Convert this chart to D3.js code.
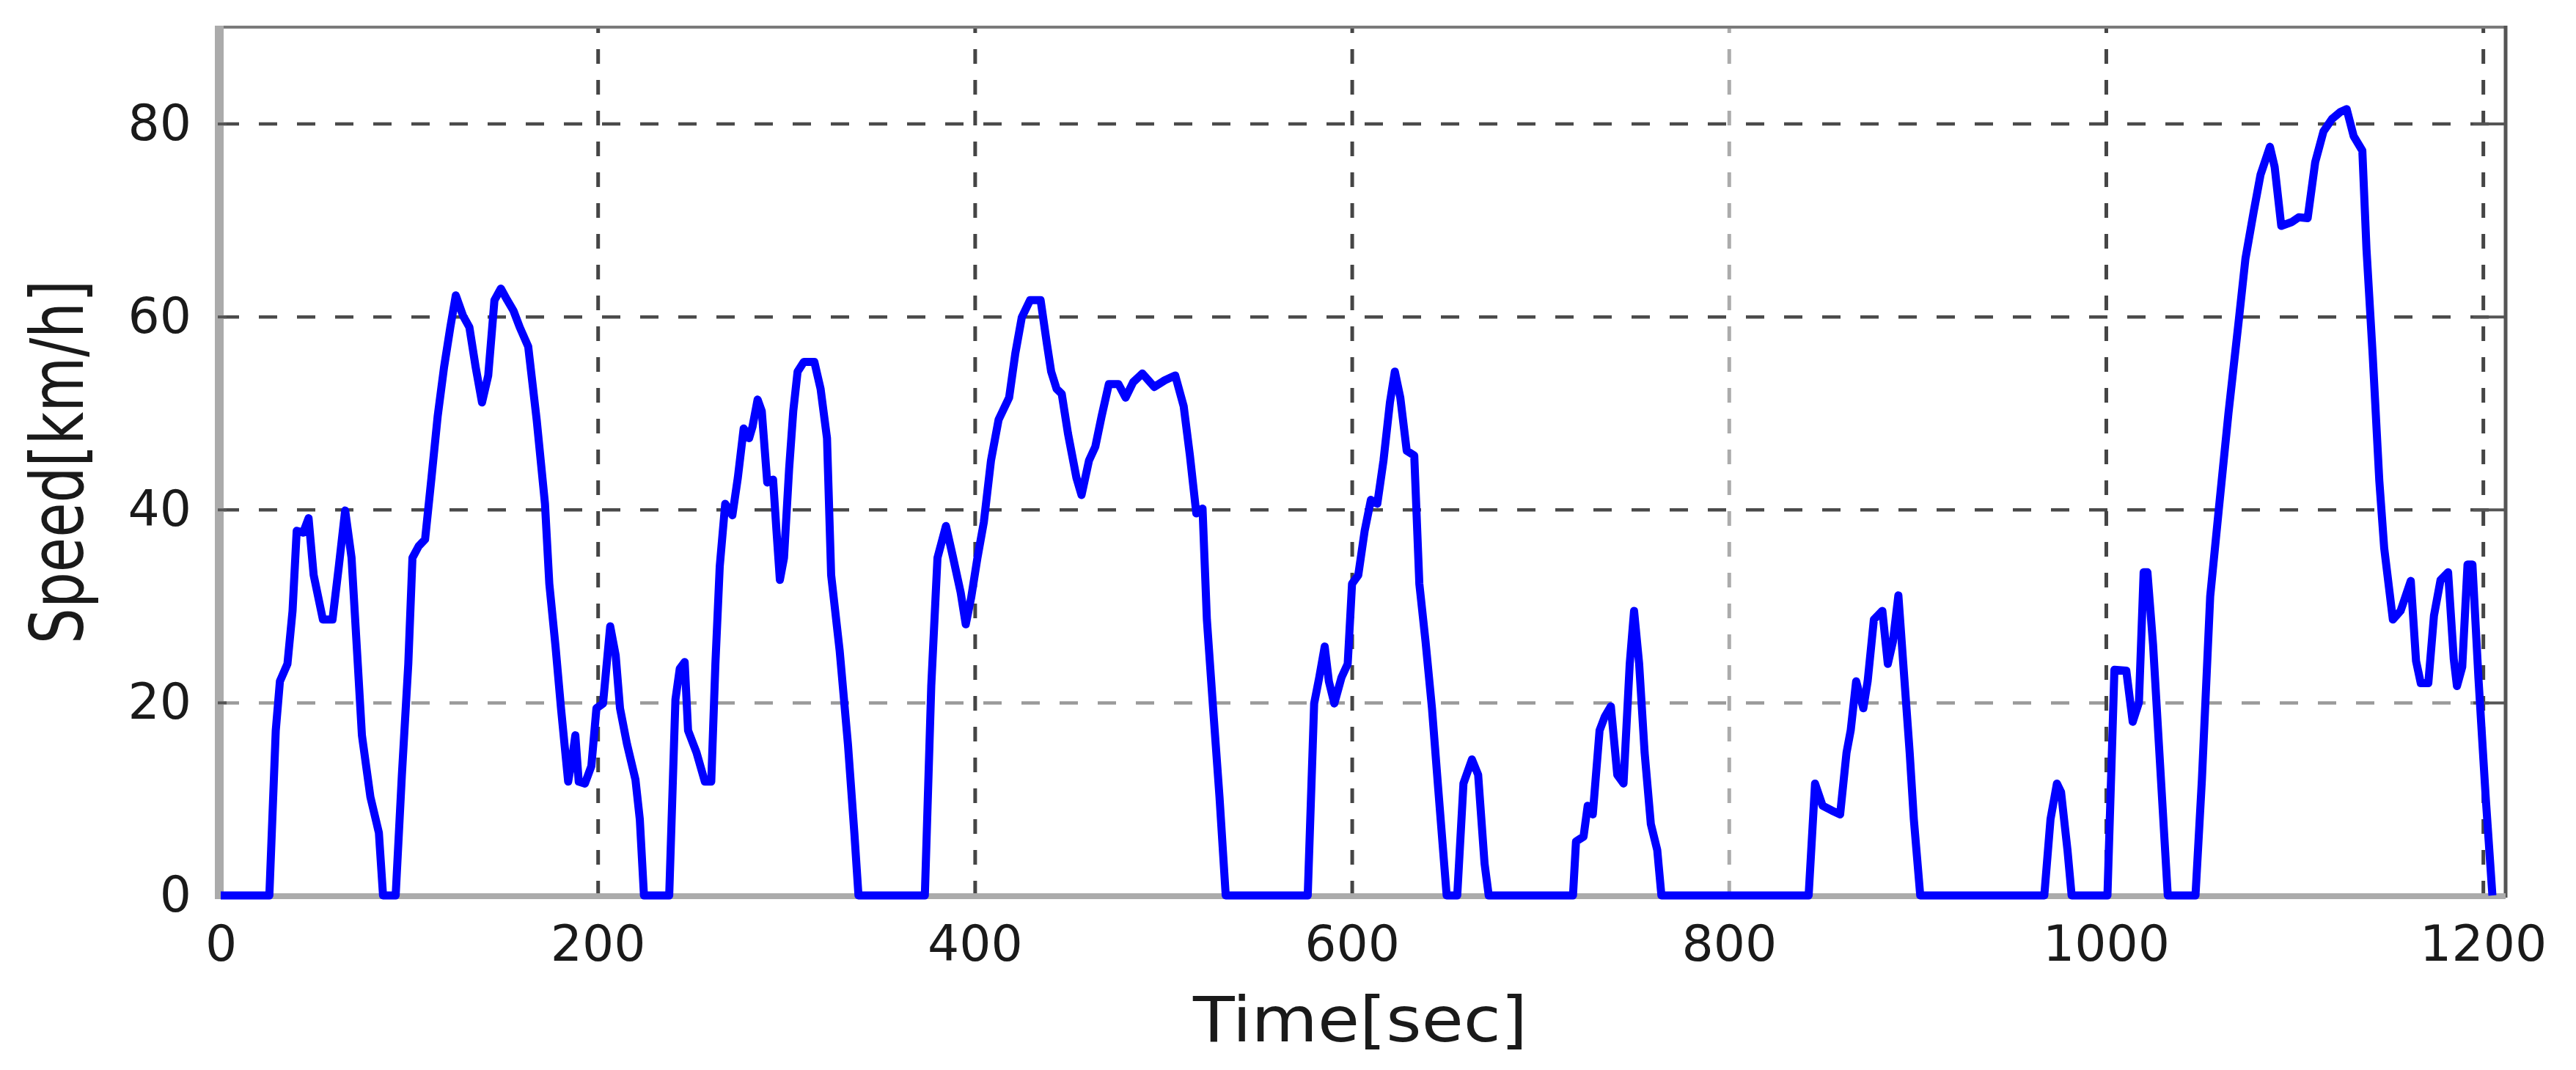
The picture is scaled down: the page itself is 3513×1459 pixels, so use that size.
<!DOCTYPE html>
<html>
<head>
<meta charset="utf-8">
<script src="https://cdn.jsdelivr.net/npm/d3@7"></script>
<style>
  html, body { margin: 0; padding: 0; background: #fff; }
  svg { display: block; }
</style>
</head>
<body>
<script>
// ---------------- data ----------------
const timeSec = [
  0, 25.8, 29.2, 31.4, 35.4, 38.1, 40.3, 43.7, 46.6, 49.3, 54.2, 59.3, 62.7, 66, 69.4, 72.7, 74.9, 79.4, 83.9, 86.1,
  92.8, 96.1, 99.5, 101.7, 105, 108.4, 111.8, 115.1, 118.5, 121.8, 124.7, 128.5, 131.9, 135.2, 138.6, 141.9, 145.2, 148.6, 152, 155.3,
  158.6, 163.1, 167.6, 172, 174.3, 177.6, 180.5, 184.3, 186.5, 188.1, 189.9, 193.2, 196.6, 199.3, 202.8, 206.6, 209.5, 211.8, 215.5, 220,
  222.3, 224.5, 237.9, 241.2, 243.5, 246.1, 247.9, 252.4, 256.8, 260.2, 262.4, 264.7, 267.6, 271.4, 274.3, 277.4, 280.3, 282.1, 284.8, 287,
  289.9, 293, 294.8, 296.6, 298.8, 301.5, 303.7, 306, 309.3, 314.9, 318.2, 321.6, 323.8, 328.3, 332.7, 336.1, 338.3, 373.5, 376.9, 380.2,
  384.7, 388.5, 392.5, 395.2, 398.1, 401.4, 404.8, 408.6, 412.6, 418.2, 421.5, 424.9, 429.3, 434.9, 438.3, 440.5, 443.4, 446.1, 449.4, 453.9,
  456.6, 460.6, 463.9, 467.3, 471.1, 476.2, 480, 484, 488.9, 495.2, 500.8, 506.3, 510.8, 514.1, 517.5, 520.8, 523.1, 526.4, 529.8, 533.1,
  576.6, 580, 582.7, 585.6, 587.8, 590.7, 594.5, 597.8, 600.1, 603.4, 606.8, 610.1, 613.5, 616.8, 620.2, 622.8, 625.7, 629.1, 633.1, 635.8,
  639.1, 642.5, 645.8, 650.3, 655.9, 659.2, 663.7, 667, 670.4, 672.6, 717.3, 718.9, 722.9, 725.1, 727.8, 731.4, 734.1, 737.4, 740.8, 744.1,
  747.4, 749.7, 752.4, 755.3, 758.6, 762, 764.2, 842.3, 845.7, 849.7, 854.6, 859, 862.4, 864.6, 867.5, 871.3, 873.6, 876.9, 881.4, 884.3,
  887, 889.9, 892.5, 895.9, 898.1, 901.5, 967.3, 970.6, 974, 976.2, 979.6, 981.8, 1000.8, 1004.5, 1010.8, 1014.2, 1017.5, 1020, 1022, 1025,
  1028.2, 1032.8, 1047.5, 1050.9, 1055.3, 1059.8, 1065, 1070.4, 1074, 1078.3, 1082, 1087, 1089.5, 1093, 1098.6, 1102.3, 1107, 1111, 1115.4, 1120,
  1124.3, 1127.7, 1131.4, 1136, 1138.2, 1141.5, 1145, 1147.6, 1152.2, 1156.3, 1161.7, 1164.5, 1167, 1171, 1174, 1177.5, 1181.5, 1184.5, 1186.2, 1189,
  1191.8, 1194.4, 1197.6, 1201.5, 1205
];
const speedKmh = [
  0, 0, 17.1, 22.2, 24, 29.5, 37.8, 37.6, 39.1, 33.2, 28.6, 28.6, 34.2, 39.9, 35, 24, 16.6, 10.2, 6.5, 0,
  0, 12.5, 24, 35, 36.2, 36.9, 43.3, 49.7, 54.8, 58.9, 62.2, 60.1, 58.9, 54.8, 51.1, 53.9, 61.7, 62.9, 61.7, 60.6,
  58.9, 56.9, 49.3, 40.6, 32.3, 25.8, 19.4, 11.8, 14.3, 16.6, 11.8, 11.6, 13.4, 19.4, 19.9, 27.9, 24.9, 19.4, 15.7, 12,
  7.9, 0, 0, 20.3, 23.5, 24.2, 17.1, 14.8, 11.8, 11.8, 24, 34.1, 40.6, 39.4, 43.3, 48.4, 47.4, 48.6, 51.4, 50.2,
  42.8, 43.1, 37.8, 32.7, 35, 44.2, 50.2, 54.3, 55.3, 55.3, 52.5, 47.4, 33.2, 25.4, 15.7, 6.5, 0, 0, 21.7, 35,
  38.3, 35, 31.4, 28.1, 30.9, 35, 38.7, 45.1, 49.3, 51.6, 56.2, 59.9, 61.7, 61.7, 57.1, 54.3, 52.5, 52, 47.9, 43.3,
  41.5, 45.1, 46.5, 49.7, 53, 53, 51.6, 53.2, 54.1, 52.7, 53.4, 53.9, 50.7, 45.6, 39.6, 40.1, 28.6, 19.4, 10.2, 0,
  0, 19.9, 22.6, 25.8, 22.2, 19.9, 22.6, 24, 32.3, 33.2, 37.8, 41, 40.6, 45.1, 51.1, 54.3, 51.6, 46.1, 45.6, 32.3,
  26.3, 19.4, 11.1, 0, 0, 11.6, 14.1, 12.5, 3.3, 0, 0, 5.6, 6.1, 9.3, 8.4, 17.1, 18.5, 19.6, 12.5, 11.6,
  24, 29.5, 24, 14.8, 7.4, 4.7, 0, 0, 11.6, 9.3, 8.8, 8.4, 14.8, 17.1, 22.2, 19.4, 22.2, 28.6, 29.5, 24,
  26.3, 31.1, 24, 14.8, 7.9, 0, 0, 7.9, 11.6, 10.7, 4.7, 0, 0, 23.4, 23.3, 18, 20, 33.5, 33.5, 26,
  15.3, 0, 0, 12, 31, 39.9, 50, 59.5, 66, 70.8, 74.7, 77.6, 75.5, 69.4, 69.8, 70.3, 70.2, 76, 79.2, 80.5,
  81.2, 81.5, 78.7, 77.2, 67, 56, 43, 36, 28.6, 29.5, 32.6, 24.3, 22, 22, 29, 32.7, 33.5, 24.5, 21.7, 23.7,
  34.3, 34.3, 22.5, 10, 0
];
const xTicks = [0, 200, 400, 600, 800, 1000, 1200];
const yTicks = [0, 20, 40, 60, 80];
const xDomain = [0, 1212];
const yDomain = [0, 90];
const xLabel = "Time[sec]";
const yLabel = "Speed[km/h]";

// ---------------- layout ----------------
const W = 3513, H = 1459;
const L = 301, R = 3417, T = 37, B = 1221;
const FONT = "'DejaVu Sans', Verdana, sans-serif";

const svg = d3.select("body").append("svg").attr("width", W).attr("height", H);
svg.append("rect").attr("width", W).attr("height", H).attr("fill", "#fff");

const x = d3.scaleLinear().domain(xDomain).range([L, R]);
const y = d3.scaleLinear().domain(yDomain).range([B, T]);

// lighter grid lines (as in the reference rendering)
const lightX = new Set([800]);
const lightY = new Set([20]);

// horizontal grid
const gy = svg.append("g").attr("transform", `translate(${L},0)`)
  .call(d3.axisLeft(y).tickValues(yTicks.filter(d => d > 0)).tickSize(-(R - L)).tickFormat(""));
gy.select(".domain").remove();
gy.selectAll(".tick line")
  .attr("stroke", d => lightY.has(d) ? "#9a9a9a" : "#4a4a4a")
  .attr("stroke-width", 4.5)
  .attr("stroke-dasharray", "25,27");

// vertical grid
const gx = svg.append("g").attr("transform", `translate(0,${B})`)
  .call(d3.axisBottom(x).tickValues(xTicks.filter(d => d > 0)).tickSize(-(B - T)).tickFormat(""));
gx.select(".domain").remove();
gx.selectAll(".tick line")
  .attr("stroke", d => lightX.has(d) ? "#ababab" : "#454545")
  .attr("stroke-width", 5)
  .attr("stroke-dasharray", "20,22");

// frame
svg.append("line").attr("x1", L - 2).attr("x2", R + 2).attr("y1", T).attr("y2", T)
  .attr("stroke", "#7a7a7a").attr("stroke-width", 4);
svg.append("line").attr("x1", R).attr("x2", R).attr("y1", T - 2).attr("y2", B + 3)
  .attr("stroke", "#555").attr("stroke-width", 5);
svg.append("line").attr("x1", L - 6).attr("x2", R).attr("y1", B + 1).attr("y2", B + 1)
  .attr("stroke", "#ababab").attr("stroke-width", 8);
svg.append("line").attr("x1", L - 2).attr("x2", L - 2).attr("y1", T - 2).attr("y2", B + 5)
  .attr("stroke", "#ababab").attr("stroke-width", 12);

// small right-side ticks
const rt = svg.append("g").attr("transform", `translate(${R},0)`)
  .call(d3.axisLeft(y).tickValues(yTicks.filter(d => d > 0)).tickSize(44).tickFormat(""));
rt.select(".domain").remove();
rt.selectAll(".tick line").attr("stroke", "#555").attr("stroke-width", 4);
// small left-side ticks
const lt = svg.append("g").attr("transform", `translate(${L - 4},0)`)
  .call(d3.axisRight(y).tickValues(yTicks.filter(d => d > 0)).tickSize(12).tickFormat(""));
lt.select(".domain").remove();
lt.selectAll(".tick line").attr("stroke", "#555").attr("stroke-width", 4);

// the speed trace
const pts = timeSec.map((t, i) => [t, speedKmh[i]]);
const line = d3.line().x(d => x(d[0])).y(d => y(d[1]));
svg.append("path").datum(pts)
  .attr("d", line)
  .attr("fill", "none")
  .attr("stroke", "#0000ff")
  .attr("stroke-width", 11)
  .attr("stroke-linejoin", "round")
  .attr("stroke-linecap", "butt");

// tick labels
const xl = svg.append("g").attr("transform", `translate(0,${B})`)
  .call(d3.axisBottom(x).tickValues(xTicks).tickSize(0).tickPadding(41).tickFormat(d3.format("d")));
xl.select(".domain").remove();
xl.selectAll("text").attr("font-family", FONT).attr("font-size", 68).attr("fill", "#1a1a1a");

const yl = svg.append("g").attr("transform", `translate(${L},0)`)
  .call(d3.axisLeft(y).tickValues(yTicks).tickSize(0).tickPadding(40).tickFormat(d3.format("d")));
yl.select(".domain").remove();
yl.selectAll("text").attr("font-family", FONT).attr("font-size", 68).attr("fill", "#1a1a1a");

// axis titles
svg.append("text")
  .attr("x", 1627).attr("y", 1420)
  .attr("font-family", FONT).attr("font-size", 86).attr("fill", "#1a1a1a")
  .attr("textLength", 456).attr("lengthAdjust", "spacingAndGlyphs")
  .text(xLabel);

svg.append("text")
  .attr("transform", "translate(113,878) rotate(-90)")
  .attr("x", 0).attr("y", 0)
  .attr("font-family", FONT).attr("font-size", 100).attr("fill", "#1a1a1a")
  .attr("textLength", 496).attr("lengthAdjust", "spacingAndGlyphs")
  .text(yLabel);
</script>
</body>
</html>
